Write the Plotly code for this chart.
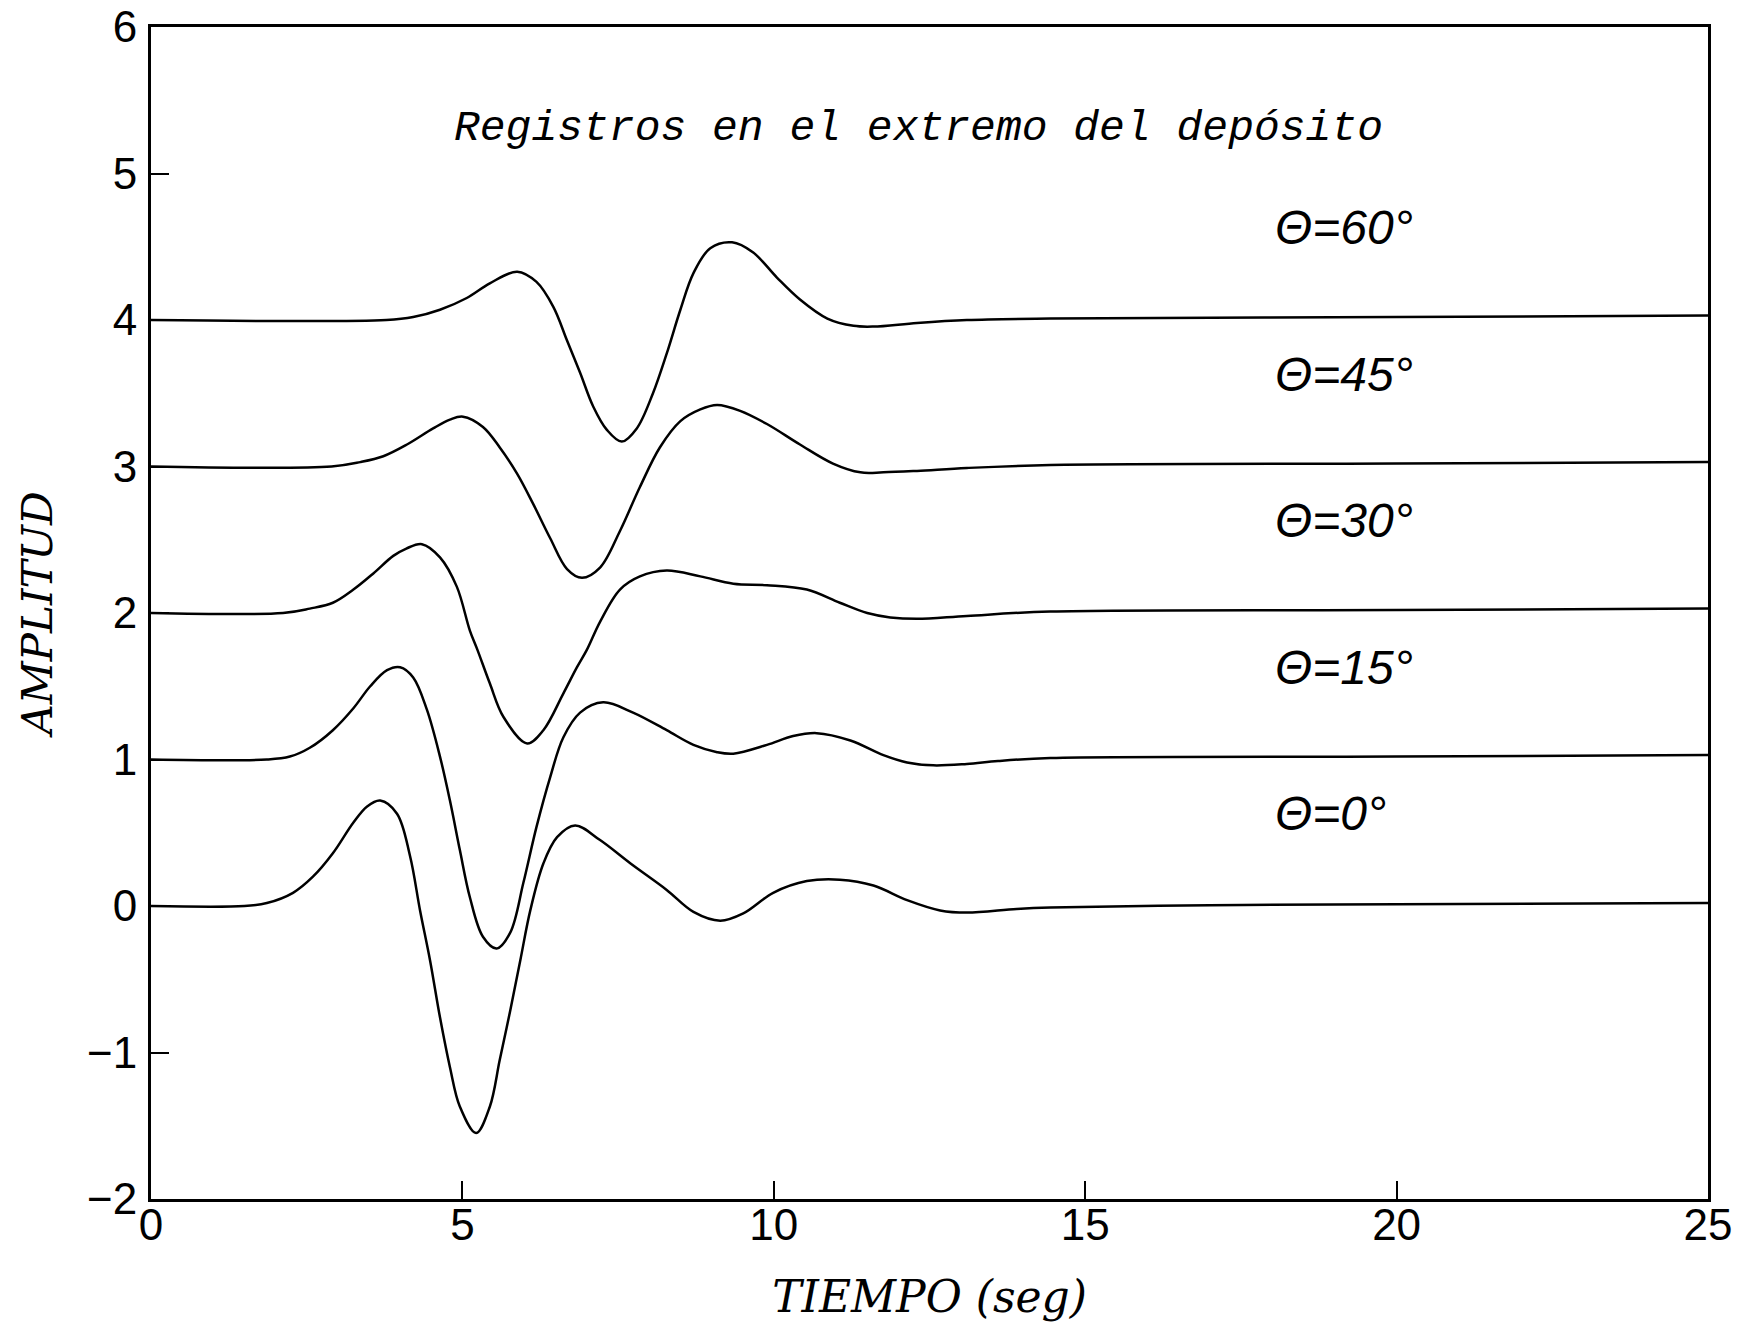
import plotly.graph_objects as go

# ---- data ----
t0 = [0, 1.5, 1.86, 2.28, 2.6, 2.92, 3.25, 3.47, 3.68, 3.95, 4.16, 4.32, 4.48, 4.64, 4.8, 4.96, 5.22,
      5.44, 5.6, 5.77, 5.93, 6.09, 6.3, 6.52, 6.81, 7.21, 7.7, 8.28, 8.71, 9.14, 9.51, 9.99,
      10.53, 11.06, 11.6, 12.14, 12.67, 13.1, 13.9, 14.44, 17, 20, 25]
a0 = [0, 0, 0.02, 0.09, 0.20, 0.36, 0.57, 0.68, 0.72, 0.63, 0.34, -0.03, -0.37, -0.76, -1.10, -1.37, -1.55,
      -1.37, -1.05, -0.71, -0.37, -0.03, 0.29, 0.47, 0.55, 0.45, 0.29, 0.11, -0.04, -0.10, -0.05, 0.09,
      0.17, 0.18, 0.14, 0.04, -0.03, -0.045, -0.02, -0.01, 0.005, 0.012, 0.02]

t15 = [0, 1.86, 2.23, 2.55, 2.92, 3.25, 3.52, 3.79, 4.0, 4.21, 4.43, 4.64, 4.8, 4.96, 5.12, 5.33, 5.55,
       5.77, 5.98, 6.19, 6.41, 6.62, 6.89, 7.26, 7.74, 8.28, 8.71, 9.09, 9.35, 9.89, 10.31, 10.69, 11.23,
       11.76, 12.14, 12.56, 13.1, 13.6, 14.44, 20, 25]
a15 = [1.0, 1.0, 1.02, 1.08, 1.20, 1.35, 1.50, 1.61, 1.63, 1.56, 1.34, 1.02, 0.72, 0.38, 0.06, -0.21, -0.29,
       -0.18, 0.16, 0.54, 0.88, 1.15, 1.32, 1.39, 1.32, 1.20, 1.10, 1.05, 1.04, 1.10, 1.16, 1.18, 1.13,
       1.03, 0.98, 0.96, 0.97, 0.99, 1.01, 1.02, 1.03]

t30 = [0, 2.12, 2.55, 2.92, 3.25, 3.57, 3.89, 4.1, 4.35, 4.64, 4.91, 5.12, 5.24, 5.44, 5.66, 6.04, 6.3, 6.62,
       6.84, 7.0, 7.21, 7.53, 7.85, 8.28, 8.82, 9.35, 9.89, 10.53, 11.06, 11.5, 11.87, 12.3, 13.1, 14.44, 20, 25]
a30 = [2.0, 2.0, 2.03, 2.07, 2.16, 2.27, 2.39, 2.44, 2.47, 2.38, 2.18, 1.88, 1.75, 1.52, 1.29, 1.11, 1.20, 1.45,
       1.63, 1.75, 1.94, 2.16, 2.25, 2.29, 2.25, 2.20, 2.19, 2.16, 2.07, 2.0, 1.97, 1.96, 1.98, 2.01, 2.02, 2.03]

t45 = [0, 2.9, 3.36, 3.73, 4.11, 4.53, 4.8, 5.01, 5.33, 5.6, 5.88, 6.13, 6.41, 6.68, 6.92, 7.21, 7.53, 7.85,
       8.17, 8.5, 8.82, 9.09, 9.46, 9.89, 10.42, 10.95, 11.39, 11.76, 12.3, 13.1, 14.44, 20, 25]
a45 = [3.0, 3.0, 3.03, 3.07, 3.15, 3.26, 3.32, 3.34, 3.27, 3.13, 2.95, 2.75, 2.51, 2.30, 2.24, 2.31, 2.56, 2.86,
       3.13, 3.31, 3.39, 3.42, 3.38, 3.29, 3.15, 3.02, 2.96, 2.96, 2.97, 2.99, 3.01, 3.02, 3.03]

t60 = [0, 3.78, 4.21, 4.64, 5.07, 5.44, 5.88, 6.19, 6.46, 6.68, 6.89, 7.1, 7.32, 7.56, 7.8, 8.06, 8.28,
       8.5, 8.71, 8.98, 9.33, 9.67, 10.05, 10.42, 10.86, 11.28, 11.6, 12.3, 13.1, 14.44, 20, 25]
a60 = [4.0, 4.0, 4.02, 4.07, 4.15, 4.25, 4.33, 4.26, 4.09, 3.86, 3.64, 3.41, 3.25, 3.17, 3.26, 3.50, 3.77,
       4.07, 4.32, 4.49, 4.53, 4.46, 4.29, 4.14, 4.01, 3.96, 3.955, 3.98, 4.0, 4.01, 4.02, 4.03]

series = [(t0, a0), (t15, a15), (t30, a30), (t45, a45), (t60, a60)]
angle_labels = ["Θ=0°", "Θ=15°", "Θ=30°", "Θ=45°", "Θ=60°"]
label_y = [0.63, 1.63, 2.63, 3.63, 4.63]
label_x = 18.02

x_ticks = [0, 5, 10, 15, 20, 25]
y_ticks = [-2, -1, 0, 1, 2, 3, 4, 5, 6]

title_text = "Registros en el extremo del depósito"
x_title = "TIEMPO (seg)"
y_title = "AMPLITUD"

# ---- figure ----
fig = go.Figure()
for tx, ay in series:
    fig.add_trace(go.Scatter(x=tx, y=ay, mode="lines",
                             line=dict(color="black", width=2.5, shape="spline", smoothing=1.0),
                             showlegend=False, hoverinfo="skip"))

serif = "DejaVu Serif"
mono = "Liberation Mono"
sans = "Liberation Sans"

annotations = [
    dict(x=12.33, y=5.31, xref="x", yref="y", text=title_text, showarrow=False,
         xanchor="center", yanchor="middle",
         font=dict(family=mono, size=43, color="black", style="italic")),
]
for lx, ly, txt in zip([label_x] * 5, label_y, angle_labels):
    annotations.append(dict(x=lx, y=ly, xref="x", yref="y", text=txt, showarrow=False,
                            xanchor="left", yanchor="middle",
                            font=dict(family=sans, size=48, color="black", style="italic")))

axis_common = dict(showgrid=False, zeroline=False, showline=True, linecolor="black", linewidth=3,
                   mirror=True, ticks="inside", ticklen=18, tickwidth=2, tickcolor="black",
                   automargin=False,
                   tickfont=dict(family=sans, size=44, color="black"))

fig.update_layout(
    width=1741, height=1329, autosize=False,
    margin=dict(l=151, r=33, t=27, b=130),
    paper_bgcolor="white", plot_bgcolor="white",
    annotations=annotations,
    xaxis=dict(range=[0, 25], tickmode="array", tickvals=x_ticks, ticklabelstandoff=-15,
               title=dict(text=x_title, standoff=34,
                          font=dict(family=serif, size=44, color="black", style="italic")),
               **axis_common),
    yaxis=dict(range=[-2, 6], tickmode="array", tickvals=y_ticks, ticklabelstandoff=2,
               title=dict(text=y_title, standoff=22,
                          font=dict(family=serif, size=42, color="black", style="italic")),
               **axis_common),
)

fig.write_html("out.html")
